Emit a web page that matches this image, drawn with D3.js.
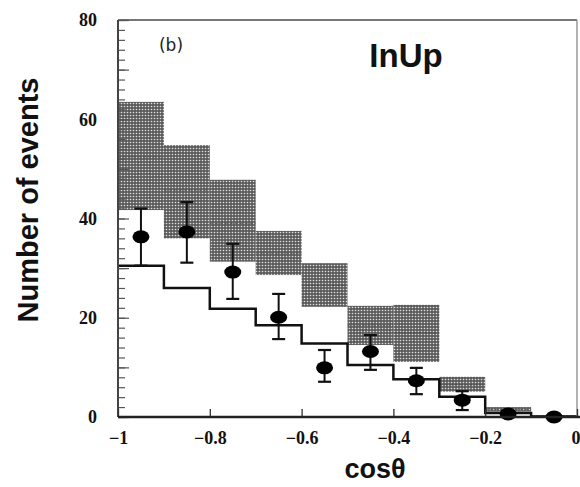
<!DOCTYPE html>
<html><head><meta charset="utf-8">
<script src="https://cdn.jsdelivr.net/npm/d3@7"></script>
<style>html,body{margin:0;padding:0;background:#fff}svg{display:block}</style>
</head><body>
<svg id="c" width="580" height="487"></svg>
<script>
// bins of cosθ (left edges), width 0.1
const binLeft = [-1.0, -0.9, -0.8, -0.7, -0.6, -0.5, -0.4, -0.3, -0.2, -0.1];
const binWidth = 0.1;
// expectation band (shaded)
const bandLow  = [41.7, 36.0, 31.3, 28.6, 22.2, 14.5, 11.1, 5.1, 1.1, 0.0];
const bandHigh = [63.5, 54.8, 47.8, 37.5, 31.0, 22.4, 22.6, 8.1, 2.0, 0.3];
const bandMid  = [52.4, 45.7, 39.0, 33.0, 26.5, 18.5, 17.0, 6.5, 1.5, 0.2];
// solid histogram
const histVals = [30.5, 26.0, 21.8, 18.5, 14.8, 10.5, 7.6, 4.1, 0.8, 0.1];
// data points
const dataX    = [-0.95, -0.85, -0.75, -0.65, -0.55, -0.45, -0.35, -0.25, -0.15, -0.05];
const dataY    = [36.3, 37.3, 29.2, 20.1, 9.9, 13.2, 7.3, 3.4, 0.6, 0.0];
const errLow   = [30.5, 31.1, 23.8, 15.7, 7.1, 9.5, 4.6, 1.4, 0.0, 0.0];
const errHigh  = [42.0, 43.3, 34.9, 24.8, 13.5, 16.5, 9.9, 5.2, 1.2, 0.0];
const xTicks = [-1, -0.8, -0.6, -0.4, -0.2, 0];
const xTickLabels = ["\u22121", "\u22120.8", "\u22120.6", "\u22120.4", "\u22120.2", "0"];
const yTicks = [0, 20, 40, 60, 80];

const svg = d3.select("#c");
const L = 118, R = 577, T = 20, B = 417;
const x = d3.scaleLinear().domain([-1, 0]).range([L, R]);
const y = d3.scaleLinear().domain([0, 80]).range([B, T]);

// pattern
const defs = svg.append("defs");
const pat = defs.append("pattern").attr("id", "dots").attr("patternUnits", "userSpaceOnUse")
  .attr("width", 3).attr("height", 3);
pat.append("rect").attr("width", 3).attr("height", 3).attr("fill", "#5c5c5c");
pat.append("circle").attr("cx", 1.5).attr("cy", 1.5).attr("r", 0.8).attr("fill", "#e0e0e0");

// band
svg.append("g").selectAll("rect").data(binLeft).join("rect")
  .attr("x", d => x(d))
  .attr("width", d => x(d + binWidth) - x(d))
  .attr("y", (d, i) => y(bandHigh[i]))
  .attr("height", (d, i) => y(bandLow[i]) - y(bandHigh[i]))
  .attr("fill", "url(#dots)");
svg.append("g").selectAll("line").data(binLeft).join("line")
  .attr("x1", d => x(d)).attr("x2", d => x(d + binWidth))
  .attr("y1", (d, i) => y(bandMid[i])).attr("y2", (d, i) => y(bandMid[i]))
  .attr("stroke", "#444").attr("stroke-width", 1).attr("stroke-dasharray", "3,2").attr("opacity", 0.6);

// histogram step line
const stepPts = [];
binLeft.forEach((b, i) => {
  stepPts.push([x(b), y(histVals[i])]);
  stepPts.push([x(b + binWidth), y(histVals[i])]);
});
svg.append("path").attr("d", d3.line()(stepPts))
  .attr("fill", "none").attr("stroke", "#111").attr("stroke-width", 2.5);

// error bars
const eb = svg.append("g").attr("stroke", "#111").attr("stroke-width", 2);
dataX.forEach((d, i) => {
  if (errHigh[i] - errLow[i] < 0.5) return;
  eb.append("line").attr("x1", x(d)).attr("x2", x(d)).attr("y1", y(errLow[i])).attr("y2", y(errHigh[i]));
  [errLow[i], errHigh[i]].forEach(v => {
    eb.append("line").attr("x1", x(d) - 6.5).attr("x2", x(d) + 6.5).attr("y1", y(v)).attr("y2", y(v)).attr("stroke-width", 2.2);
  });
});
svg.append("g").selectAll("ellipse").data(dataX).join("ellipse")
  .attr("cx", d => x(d)).attr("cy", (d, i) => y(dataY[i]))
  .attr("rx", 8.5).attr("ry", 6.5).attr("fill", "#000");

// frame
svg.append("line").attr("x1", L).attr("x2", R).attr("y1", T).attr("y2", T).attr("stroke", "#777").attr("stroke-width", 2);
svg.append("line").attr("x1", R).attr("x2", R).attr("y1", T).attr("y2", B).attr("stroke", "#999").attr("stroke-width", 1.5);

// y axis with minor ticks
const yAxisG = svg.append("g").attr("transform", `translate(${L},0)`);
yAxisG.append("g").call(d3.axisRight(y).tickValues(d3.range(0, 81, 2)).tickSize(7).tickFormat(""))
  .call(g => g.select(".domain").remove());
yAxisG.append("g").call(d3.axisRight(y).tickValues(d3.range(0, 81, 10)).tickSize(11).tickFormat(""))
  .call(g => g.select(".domain").remove());
yAxisG.selectAll(".tick line").attr("stroke", "#555").attr("stroke-width", 1.2);
yAxisG.append("line").attr("x1", 0).attr("x2", 0).attr("y1", T).attr("y2", B).attr("stroke", "#444").attr("stroke-width", 2);
const yLab = svg.append("g").attr("transform", `translate(${L - 18},0)`)
  .call(d3.axisLeft(y).tickValues(yTicks).tickSize(0).tickFormat(d3.format("d")));
yLab.select(".domain").remove();
yLab.selectAll("text").attr("font-family", "Liberation Serif, serif").attr("font-weight", "bold")
  .attr("font-size", 18).attr("fill", "#111");

// x axis
const xAxisG = svg.append("g").attr("transform", `translate(0,${B})`)
  .call(d3.axisBottom(x).tickValues(xTicks).tickSize(-8).tickPadding(14).tickFormat((d, i) => xTickLabels[i]));
xAxisG.select(".domain").remove();
xAxisG.selectAll(".tick line").attr("stroke", "#333").attr("stroke-width", 1.3);
xAxisG.selectAll("text").attr("font-family", "Liberation Serif, serif").attr("font-weight", "bold")
  .attr("font-size", 18).attr("fill", "#111");
// keep the last label ("0") inside the window
xAxisG.selectAll(".tick").filter(d => d === 0).select("text").attr("text-anchor", "end").attr("dx", 3);
svg.append("line").attr("x1", L).attr("x2", R + 3).attr("y1", B).attr("y2", B).attr("stroke", "#222").attr("stroke-width", 2.5);

// titles
svg.append("text").attr("x", 375).attr("y", 478).attr("text-anchor", "middle")
  .attr("font-family", "Liberation Sans, Arial, sans-serif").attr("font-weight", "bold").attr("font-size", 27)
  .attr("fill", "#111").text("cosθ");
svg.append("text").attr("transform", "translate(38,200) rotate(-90)").attr("text-anchor", "middle")
  .attr("font-family", "Liberation Sans, Arial, sans-serif").attr("font-weight", "bold").attr("font-size", 29)
  .attr("fill", "#111").text("Number of events");
svg.append("text").attr("x", 171).attr("y", 51).attr("text-anchor", "middle")
  .attr("font-family", "DejaVu Sans, sans-serif").attr("font-size", 17).attr("fill", "#222").text("(b)");
svg.append("text").attr("x", 406).attr("y", 67).attr("text-anchor", "middle")
  .attr("font-family", "Liberation Sans, Arial, sans-serif").attr("font-weight", "bold").attr("font-size", 33)
  .attr("fill", "#111").text("InUp");
</script>
</body></html>
